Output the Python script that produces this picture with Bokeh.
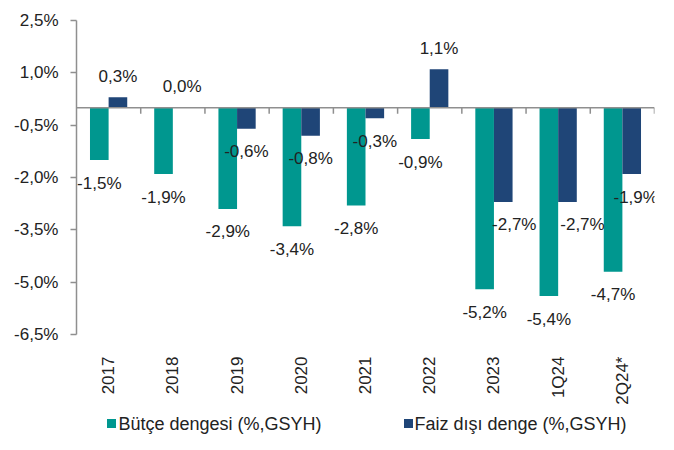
from math import pi
from bokeh.plotting import figure
from bokeh.layouts import column
from bokeh.models import (FactorRange, Range1d, FixedTicker, CustomJSTickFormatter,
                          Span, ColumnDataSource)
from bokeh.transform import dodge
from bokeh.embed import file_html
from bokeh.resources import INLINE
from bokeh.core.properties import value

# ---- data ----
categories = ["2017", "2018", "2019", "2020", "2021", "2022", "2023", "1Q24", "2Q24*"]
butce_dengesi = [-1.5, -1.9, -2.9, -3.4, -2.8, -0.9, -5.2, -5.4, -4.7]
faiz_disi_denge = [0.3, 0.0, -0.6, -0.8, -0.3, 1.1, -2.7, -2.7, -1.9]
y_ticks = [-6.5, -5.0, -3.5, -2.0, -0.5, 1.0, 2.5]
series_names = ["Bütçe dengesi (%,GSYH)", "Faiz dışı denge (%,GSYH)"]

# ---- style ----
TEAL = "#00978F"
NAVY = "#1F4577"
AXIS = "#8f8f8f"
TXT = "#222222"
FONT = "Liberation Sans"
navy_label_nudge = [0, 0, 0, 0, 0, 0, 11, 15, 4]
W_PX = 658
BL, BR = 76, 4
legend_glyph_x = [111, 408]
legend_text_x = [118, 414]


def fmt(v):
    return f"{v:.1f}".replace(".", ",") + "%"


def offs(vals):
    return [-21 if v >= 0 else 23 for v in vals]


src = ColumnDataSource(dict(
    cat=categories, b=butce_dengesi, f=faiz_disi_denge,
    bl=[fmt(v) for v in butce_dengesi], fl=[fmt(v) for v in faiz_disi_denge],
    boff=offs(butce_dengesi), foff=offs(faiz_disi_denge),
    fdx=navy_label_nudge,
))

p = figure(width=W_PX, height=412, x_range=FactorRange(*categories),
           y_range=Range1d(y_ticks[0], y_ticks[-1]),
           output_backend="svg", toolbar_location=None,
           min_border_left=BL, min_border_right=BR, min_border_top=20,
           min_border_bottom=78)
p.outline_line_color = None
p.xgrid.visible = False
p.ygrid.visible = False

W = 0.29
D = 0.145
r1 = p.vbar(x=dodge("cat", -D, range=p.x_range), top="b", bottom=0, width=W,
            source=src, fill_color=TEAL, line_color=None)
r2 = p.vbar(x=dodge("cat", D, range=p.x_range), top="f", bottom=0, width=W,
            source=src, fill_color=NAVY, line_color=None)

p.add_layout(Span(location=0, dimension="width", line_color=AXIS, line_width=1.5))
bounds = list(range(1, len(categories) + 1))
tick_len = (y_ticks[-1] - y_ticks[0]) / 314 * 6
p.segment(x0=bounds, x1=bounds, y0=[0] * len(bounds), y1=[-tick_len] * len(bounds),
          line_color=AXIS, line_width=1.5)

p.text(x=dodge("cat", -D, range=p.x_range), y="b", text="bl", y_offset="boff",
       source=src, text_align="center", text_baseline="middle",
       text_font=value(FONT), text_font_size="17px", text_color=TXT)
p.text(x=dodge("cat", D, range=p.x_range), y="f", text="fl", y_offset="foff",
       x_offset="fdx", source=src, text_align="center", text_baseline="middle",
       text_font=value(FONT), text_font_size="17px", text_color=TXT)

ya = p.yaxis[0]
ya.ticker = FixedTicker(ticks=y_ticks)
ya.formatter = CustomJSTickFormatter(code="return tick.toFixed(1).replace('.', ',') + '%';")
ya.axis_line_color = AXIS
ya.axis_line_width = 1.5
ya.major_tick_line_color = AXIS
ya.major_tick_line_width = 1.5
ya.major_tick_out = 6
ya.major_tick_in = 0
ya.minor_tick_line_color = None
ya.major_label_standoff = 12
ya.major_label_text_font = FONT
ya.major_label_text_font_size = "17px"
ya.major_label_text_color = TXT

xa = p.xaxis[0]
xa.axis_line_color = None
xa.major_tick_line_color = None
xa.minor_tick_line_color = None
xa.major_label_orientation = pi / 2
xa.major_label_standoff = 16
xa.major_label_text_font = FONT
xa.major_label_text_font_size = "17px"
xa.major_label_text_color = TXT

# ---- legend strip below the chart (x range in page pixels) ----
LH = 22
leg = figure(width=W_PX, height=LH, x_range=Range1d(BL, W_PX - BR),
             y_range=Range1d(0, LH), output_backend="svg", toolbar_location=None,
             min_border=0, min_border_left=BL, min_border_right=BR,
             x_axis_type=None, y_axis_type=None)
leg.outline_line_color = None
leg.xgrid.visible = False
leg.ygrid.visible = False
leg.scatter(x=legend_glyph_x, y=[LH / 2] * 2, marker="square", size=9,
            fill_color=[TEAL, NAVY], line_color=None)
leg.text(x=legend_text_x, y=[LH / 2] * 2, text=series_names,
         text_align="left", text_baseline="middle",
         text_font=value(FONT), text_font_size="18px", text_color=TXT)

open("out.html", "w").write(file_html(column(p, leg, spacing=0), INLINE))
